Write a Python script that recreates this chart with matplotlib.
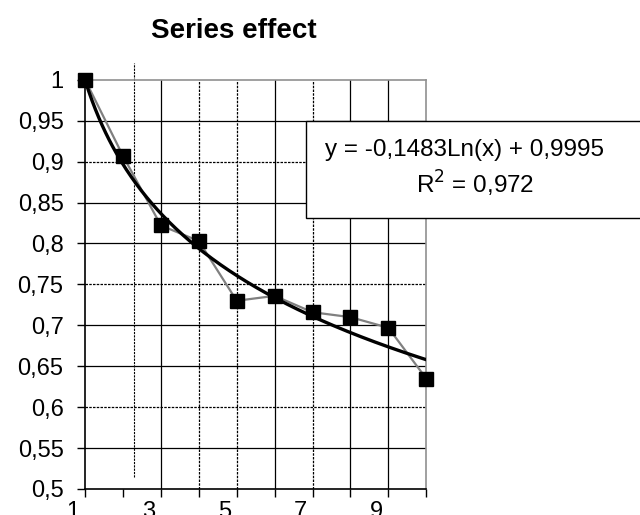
import numpy as np
import matplotlib.pyplot as plt
from matplotlib.transforms import ScaledTranslation

plt.rcParams['font.family'] = ['Liberation Sans', 'DejaVu Sans']

# data
x = [1, 2, 3, 4, 5, 6, 7, 8, 9, 10]
y = [1.0, 0.907, 0.822, 0.803, 0.730, 0.736, 0.716, 0.710, 0.697, 0.635]
# trendline given on the chart
coef_a = -0.1483
coef_b = 0.9995
eq_text = 'y = -0,1483Ln(x) + 0,9995'
r2_text = 'R$^2$ = 0,972'

yticks = [0.5, 0.55, 0.6, 0.65, 0.7, 0.75, 0.8, 0.85, 0.9, 0.95, 1.0]
ylabels = ['0,5', '0,55', '0,6', '0,65', '0,7', '0,75', '0,8', '0,85', '0,9', '0,95', '1']
xticks = [1, 3, 5, 7, 9]

fig = plt.figure(figsize=(6.4, 5.15), dpi=100)
ax = fig.add_axes([0.133, 0.0505, 0.533, 0.7945])

# grid lines (solid and dotted as in the scan)
for yv in [0.55, 0.65, 0.7, 0.8, 0.85, 0.95]:
    ax.axhline(yv, color='black', lw=0.9, zorder=1)
for yv in [0.6, 0.75, 0.9]:
    ax.axhline(yv, color='black', lw=0.9, ls=(0, (2, 1)), zorder=1)
for xv in [3, 6, 8, 9]:
    ax.axvline(xv, color='black', lw=0.9, zorder=1)
for xv in [4, 5, 7]:
    ax.axvline(xv, color='black', lw=0.9, ls=(0, (2, 1)), zorder=1)
ax.plot([2.3, 2.3], [0.515, 1.02], color='black', lw=0.8, ls=(0, (2, 1)), clip_on=False, zorder=1)

ax.plot(x, y, color='#808080', lw=1.6, marker='s', markersize=10.5,
        markerfacecolor='black', markeredgecolor='black', zorder=3, clip_on=False)

xt = np.linspace(1, 10, 200)
ax.plot(xt, coef_a * np.log(xt) + coef_b, color='black', lw=2.4, zorder=4)

ax.set_xlim(1, 10)
ax.set_ylim(0.5, 1.0)
ax.set_yticks(yticks)
ax.set_yticklabels(ylabels, fontsize=17)
ax.set_xticks(xticks)
ax.set_xticklabels([str(v) for v in xticks], fontsize=17)
ax.set_xticks(x, minor=True)
ax.tick_params(axis='both', direction='out', length=5.5, width=1, color='black')
ax.tick_params(axis='x', which='minor', length=5.5, width=1)
ax.tick_params(axis='y', pad=10)
ax.tick_params(axis='x', pad=3)
shift = ScaledTranslation(-0.12, 0, fig.dpi_scale_trans)
for lab in ax.get_xticklabels():
    lab.set_transform(lab.get_transform() + shift)

ax.spines['left'].set_color('black')
ax.spines['bottom'].set_color('black')
ax.spines['top'].set_color('#909090')
ax.spines['right'].set_color('#909090')
for s in ax.spines.values():
    s.set_linewidth(1.2)

fig.text(0.366, 0.94, 'Series effect', ha='center', va='center', fontsize=20, fontweight='bold')

# equation box
box = plt.Rectangle((0.478, 0.577), 0.55, 0.188, transform=fig.transFigure,
                    facecolor='white', edgecolor='black', lw=1, zorder=5)
fig.patches.append(box)
fig.text(0.726, 0.708, eq_text, ha='center', va='center', fontsize=17.5, zorder=6)
fig.text(0.742, 0.642, r2_text, ha='center', va='center', fontsize=17.5, zorder=6)

fig.savefig('out.png', dpi=100)
